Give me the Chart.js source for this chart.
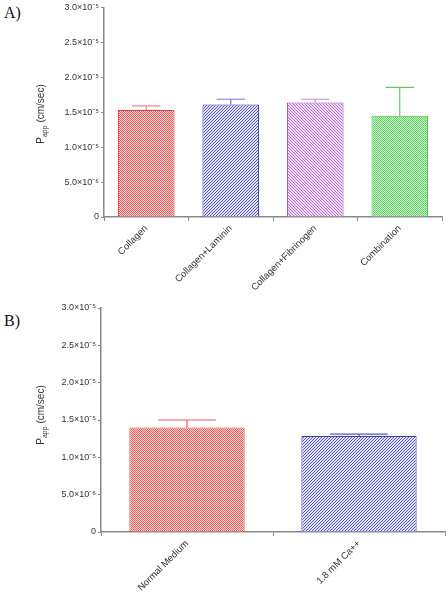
<html>
<head>
<meta charset="utf-8">
<title>Papp</title>
<script src="https://cdn.jsdelivr.net/npm/chart.js"></script>
<style>
  body { margin: 0; background: #fff; }
  #wrap { position: relative; width: 448px; height: 599px; }
  canvas { position: absolute; left: 0; }
  .lbl { position: absolute; left: 4px; font-family: "Liberation Serif", serif; font-size: 16px; color: #111; }
</style>
</head>
<body>
<div id="wrap">
  <div class="lbl" style="top:4px">A)</div>
  <div class="lbl" style="top:312px">B)</div>
  <canvas id="chartA" width="448" height="300" style="top:0"></canvas>
  <canvas id="chartB" width="448" height="299" style="top:300px"></canvas>
</div>
<script>
// panel A
const catsA = ['Collagen', 'Collagen+Laminin', 'Collagen+Fibrinogen', 'Combination'];
const meanA = [1.53e-5, 1.61e-5, 1.64e-5, 1.45e-5];
const errA = [0.06e-5, 0.075e-5, 0.045e-5, 0.405e-5];
// panel B
const catsB = ['Normal Medium', '1.8 mM Ca++'];
const meanB = [1.40e-5, 1.285e-5];
const errB = [0.10e-5, 0.025e-5];
// shared y axis
const yTicks = [0, 0.5e-5, 1.0e-5, 1.5e-5, 2.0e-5, 2.5e-5, 3.0e-5];
const yTickLabels = ['0', '5.0×10⁻⁶', '1.0×10⁻⁵', '1.5×10⁻⁵', '2.0×10⁻⁵', '2.5×10⁻⁵', '3.0×10⁻⁵'];

function checker(fg, bg) {
  var c = document.createElement('canvas');
  c.width = 2; c.height = 2;
  var x = c.getContext('2d');
  x.fillStyle = bg; x.fillRect(0, 0, 2, 2);
  x.fillStyle = fg; x.fillRect(0, 0, 1, 1); x.fillRect(1, 1, 1, 1);
  return x.createPattern(c, 'repeat');
}
function diag(fg, bg, flip) {
  var n = 3;
  var c = document.createElement('canvas');
  c.width = n; c.height = n;
  var x = c.getContext('2d');
  x.fillStyle = bg; x.fillRect(0, 0, n, n);
  x.fillStyle = fg;
  for (var i = 0; i < n; i++) {
    x.fillRect(flip ? i : n - 1 - i, i, 1, 1);
  }
  return x.createPattern(c, 'repeat');
}

const redFill = checker('#f25a5a', '#ffd6d6');
const blueFill = diag('#5a5ac4', '#e0e0f8', false);
const purpleFill = diag('#b468d2', '#f2e0f8', true);
const greenFill = checker('#5cd05c', '#d6f6d6');

const errorBars = {
  id: 'errorBars',
  afterDatasetsDraw(chart, args, opts) {
    const ctx = chart.ctx;
    const ys = chart.scales.y;
    const meta = chart.getDatasetMeta(0);
    const ds = chart.data.datasets[0];
    meta.data.forEach(function(bar, i) {
      const top = ys.getPixelForValue(ds.data[i] + opts.err[i]);
      const half = bar.width / 4;
      ctx.save();
      ctx.strokeStyle = opts.colors[i];
      ctx.lineWidth = 1.2;
      ctx.beginPath();
      ctx.moveTo(bar.x, bar.y);
      ctx.lineTo(bar.x, top);
      ctx.moveTo(bar.x - half, top);
      ctx.lineTo(bar.x + half, top);
      ctx.stroke();
      ctx.restore();
    });
  }
};

const yTitle = {
  id: 'yTitle',
  afterDraw(chart, args, opts) {
    const ctx = chart.ctx;
    ctx.save();
    ctx.translate(opts.x, opts.y);
    ctx.rotate(-Math.PI / 2);
    ctx.fillStyle = '#333';
    ctx.textBaseline = 'alphabetic';
    const big = '10px "Liberation Sans", Arial, sans-serif';
    const small = '7px "Liberation Sans", Arial, sans-serif';
    ctx.font = big;
    const w1 = ctx.measureText('P').width;
    const w3 = ctx.measureText(' (cm/sec)').width;
    ctx.font = small;
    const w2 = ctx.measureText('app').width;
    let x = -(w1 + w2 + w3) / 2;
    ctx.font = big;
    ctx.fillText('P', x, 4); x += w1;
    ctx.font = small;
    ctx.fillText('app', x, 7); x += w2;
    ctx.font = big;
    ctx.fillText(' (cm/sec)', x, 4);
    ctx.restore();
  }
};

function makeChart(id, cats, means, errs, fills, borders, errColors, pad, yW, xH, titlePos) {
  return new Chart(document.getElementById(id), {
    type: 'bar',
    data: {
      labels: cats,
      datasets: [{
        data: means,
        backgroundColor: fills,
        borderColor: borders,
        borderWidth: 1,
        barPercentage: 0.67,
        categoryPercentage: 1
      }]
    },
    options: {
      responsive: false,
      animation: false,
      layout: { autoPadding: false, padding: pad },
      plugins: {
        legend: { display: false },
        tooltip: { enabled: false },
        errorBars: { err: errs, colors: errColors },
        yTitle: titlePos
      },
      scales: {
        x: {
          grid: { drawOnChartArea: false, tickLength: 4, color: '#888', tickWidth: 1 },
          border: { color: '#888', width: 1.5 },
          ticks: {
            autoSkip: false, minRotation: 45, maxRotation: 45, padding: 2,
            color: '#333', font: { family: '"Liberation Sans", Arial, sans-serif', size: 9.5 }
          },
          afterFit: function(s) { s.height = xH; }
        },
        y: {
          min: 0, max: 3e-5,
          afterBuildTicks: function(s) { s.ticks = yTicks.map(function(v) { return { value: v }; }); },
          grid: { drawOnChartArea: false, tickLength: 3, color: '#888', tickWidth: 1 },
          border: { color: '#888', width: 1.5 },
          ticks: {
            padding: 2, color: '#333',
            font: { family: '"Liberation Sans", Arial, sans-serif', size: 9 },
            callback: function(v, i) { return yTickLabels[i]; }
          },
          afterFit: function(s) { s.width = yW; }
        }
      }
    },
    plugins: [errorBars, yTitle]
  });
}

makeChart('chartA', catsA, meanA, errA,
  [redFill, blueFill, purpleFill, greenFill],
  ['#e83a3a', '#3a3aa8', '#9a4ab8', '#3ec03e'],
  ['#f08a8a', '#7a7ad8', '#c48ad8', '#62c862'],
  { top: 7, right: 6, left: 0, bottom: 0 }, 104, 83, { x: 40, y: 114 });

makeChart('chartB', catsB, meanB, errB,
  [redFill, blueFill],
  ['#e83a3a', '#3a3aa8'],
  ['#e85a5a', '#5a5ab8'],
  { top: 8, right: 3, left: 0, bottom: 0 }, 101, 67, { x: 40, y: 115 });
</script>
</body>
</html>
